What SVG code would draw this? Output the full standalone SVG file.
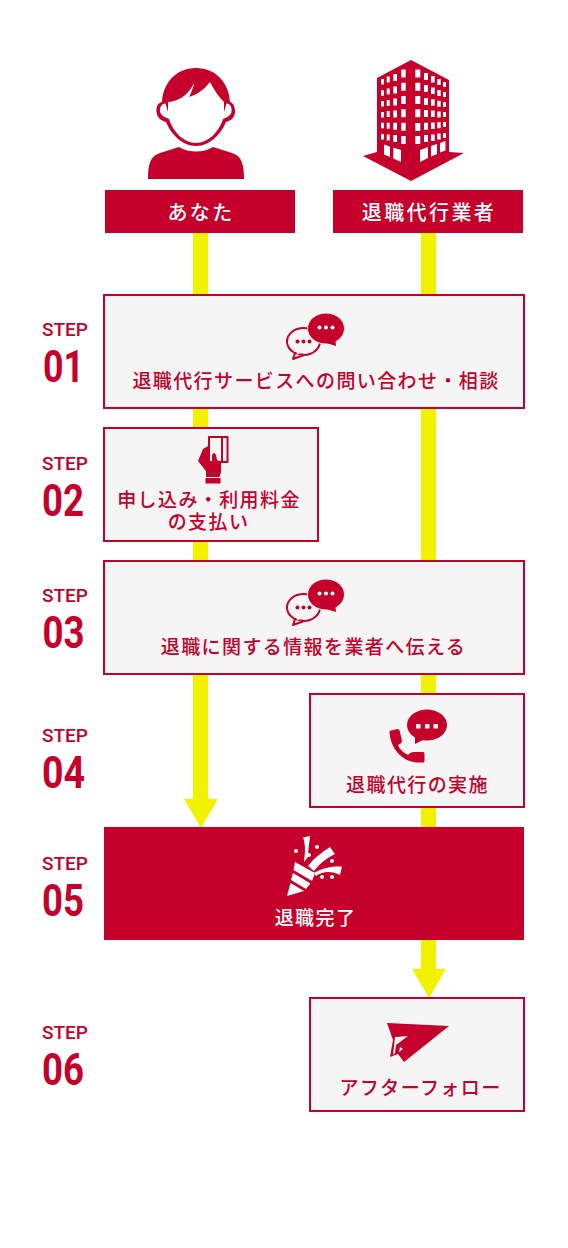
<svg xmlns="http://www.w3.org/2000/svg" xmlns:xlink="http://www.w3.org/1999/xlink" width="568" height="1248" viewBox="0 0 568 1248">
<style>
.r{fill:#c4002b}
.w{fill:#fff}
.box{fill:#f5f5f5;stroke:#c4002b;stroke-width:2}
.y{fill:#f2f200}
.t{font-family:"Noto Sans CJK JP","Noto Sans",sans-serif;font-size:19px;font-weight:500;letter-spacing:1.4px;text-anchor:middle;fill:#c4002b}
.tw{fill:#fff}
.h{font-size:20px;letter-spacing:2.4px}
.s{font-family:Roboto,"Liberation Sans",sans-serif;font-size:18.5px;font-weight:500;fill:#c4002b}
.n{font-family:Roboto,"Liberation Sans",sans-serif;font-size:44px;font-weight:700;fill:#c4002b}
</style>
<defs>
<g id="chat">
<ellipse cx="303.500" cy="341.500" rx="16.500" ry="13.500" fill="none" stroke="#c4002b" stroke-width="2"/>
<path d="M295 353L293 359L304 355Z" fill="#f5f5f5" stroke="#c4002b" stroke-width="2" stroke-linejoin="round"/>
<path d="M296 350L297 354L303 353Z" fill="#f5f5f5"/>
<circle class="r" cx="297.500" cy="341.500" r="2"/><circle class="r" cx="303.500" cy="341.500" r="2"/><circle class="r" cx="309.500" cy="341.500" r="2"/>
<ellipse cx="326" cy="328.500" rx="18.500" ry="15.500" class="r" stroke="#f5f5f5" stroke-width="1"/>
<path class="r" d="M323 342L336 346L335 336Z"/>
<circle class="w" cx="319.500" cy="327.500" r="2"/><circle class="w" cx="326" cy="327.500" r="2"/><circle class="w" cx="332.500" cy="327.500" r="2"/>
</g>
</defs>
<g id="connectors">
<rect class="y" x="193" y="233" width="15" height="61"/>
<rect class="y" x="193" y="409" width="15" height="18"/>
<rect class="y" x="193" y="542" width="15" height="18"/>
<path class="y" d="M193 675H208V799H218L201 828L184 799H193Z"/>
<rect class="y" x="421" y="233" width="15" height="61"/>
<rect class="y" x="421" y="409" width="15" height="151"/>
<rect class="y" x="421" y="675" width="15" height="18"/>
<rect class="y" x="421" y="808" width="15" height="19"/>
<path class="y" d="M421 940H436V969H446L429 998L412 969H421Z"/>
</g>
<g id="you">
<path class="r" d="M196 68C176 68 163 83 162 102C157 103 156 108 156.500 112C157 118 162 121 166 122C171 134 182 146 196 146C210 146 221 134 226 122C230 121 235 118 235 112C235 108 234 103 230 102C229 83 216 68 196 68Z"/>
<path class="w" d="M168 102C178 101 188 96 194 83C193 89 191 93 189 97C196 95 204 90 210 82C214 90 219 97 224 102L224 112L226.500 103.500C231 104 232 108 231.500 112C231 115 228 117 223 119C219 132 208 143 196 143C184 143 173 132 169 119C164 117 161 115 160 112C159.500 108 161 104 165.500 103.500L168 112Z"/>
<path class="r" d="M148 179C148 165 150 156 160 153L179 147C184 150 190 151.500 196 151.500C202 151.500 208 150 213 147L232 153C242 156 244 165 244 179Z"/>
<rect class="r" x="105" y="190" width="190" height="43"/>
<text class="t tw h" x="201" y="220">あなた</text>
</g>
<g id="agent">
<path class="r" d="M411 60L449 80V152L464 153L411 181L363 156L377 152V78Z"/>
<path class="w" d="M381 79h3v5.500h-3zM386.700 76.500h3v6h-3zM393.300 74h3.700v7h-3.700zM401.300 69.500h4.400v8h-4.400zM381 90.300h3v5.500h-3zM386.700 88.500h3v6h-3zM393.300 86.500h3.700v7h-3.700zM401.300 82.700h4.400v8h-4.400zM381 101h3v5.500h-3zM386.700 100h3v6h-3zM393.300 98.500h3.700v7h-3.700zM401.300 96h4.400v8h-4.400zM381 112h3v5.500h-3zM386.700 111h3v6h-3zM393.300 110.500h3.700v7h-3.700zM401.300 109.300h4.400v8h-4.400zM381 122.700h3v5.500h-3zM386.700 122.700h3v6h-3zM393.300 122.700h3.700v7h-3.700zM401.300 122.700h4.400v8h-4.400zM381 134h3v5.500h-3zM386.700 134.500h3v6h-3zM393.300 135h3.700v7h-3.700zM401.300 136h4.400v8h-4.400z"/>
<path class="w" d="M415.300 69.500h5v8h-5zM424 73h4v7h-4zM431 76h3.700v6.500h-3.700zM437.300 79h3.400v6h-3.400zM443 82h3v5h-3zM415.300 82.700h5v8h-5zM424 85h4v7h-4zM431 87.500h3.700v6.500h-3.700zM437.300 90h3.400v6h-3.400zM443 92h3v5h-3zM415.300 96h5v8h-5zM424 98h4v7h-4zM431 99.300h3.700v6.500h-3.700zM437.300 100.800h3.400v6h-3.400zM443 102h3v5h-3zM415.300 109.300h5v8h-5zM424 110h4v7h-4zM431 110.600h3.700v6.500h-3.700zM437.300 111.400h3.400v6h-3.400zM443 112h3v5h-3zM415.300 123h5v8h-5zM424 122.700h4v7h-4zM431 122.500h3.700v6.500h-3.700zM437.300 122.200h3.400v6h-3.400zM443 122h3v5h-3zM415.300 136h5v8h-5zM424 135h4v7h-4zM431 134.400h3.700v6.500h-3.700zM437.300 133.600h3.400v6h-3.400zM443 133h3v5h-3z"/>
<path class="w" d="M384 144.500L390 146.500V157L384 154.500ZM393.300 147.500L401 150V162L393.300 158.500ZM420 150L428 147V158L420 162ZM431 146L437 144V154L431 156.500ZM440 143L445.500 141V150.500L440 152.500Z"/>
<rect class="r" x="333" y="190" width="190" height="43"/>
<text class="t tw h" x="429" y="220">退職代行業者</text>
</g>
<g id="step01">
<text class="s" x="42" y="336" textLength="46" lengthAdjust="spacingAndGlyphs">STEP</text>
<text class="n" x="43" y="382" textLength="41" lengthAdjust="spacingAndGlyphs">01</text>
<rect class="box" x="104" y="295" width="420" height="113"/>
<use href="#chat"/>
<text class="t" x="316" y="388">退職代行サービスへの問い合わせ・相談</text>
</g>
<g id="step02">
<text class="s" x="42" y="470" textLength="46" lengthAdjust="spacingAndGlyphs">STEP</text>
<text class="n" x="42" y="516" textLength="42" lengthAdjust="spacingAndGlyphs">02</text>
<rect class="box" x="104" y="428" width="214" height="113"/>
<path d="M209 437H227.500V462H209ZM222 437V462" fill="none" stroke="#c4002b" stroke-width="2"/>
<path class="r" d="M198 461L203 449L209 445.500V461H212V455Q214 451 216 455L217 460L221 462V472L219.500 477H206V471Z"/>
<rect class="r" x="205.500" y="478" width="15" height="5.500"/>
<text class="t" x="209" y="507">申し込み・利用料金</text>
<text class="t" x="208.500" y="529">の支払い</text>
</g>
<g id="step03">
<text class="s" x="42" y="602" textLength="46" lengthAdjust="spacingAndGlyphs">STEP</text>
<text class="n" x="42.500" y="648" textLength="42" lengthAdjust="spacingAndGlyphs">03</text>
<rect class="box" x="104" y="561" width="420" height="113"/>
<use href="#chat" y="266"/>
<text class="t" x="313.500" y="654">退職に関する情報を業者へ伝える</text>
</g>
<g id="step04">
<text class="s" x="42" y="742" textLength="46" lengthAdjust="spacingAndGlyphs">STEP</text>
<text class="n" x="42" y="788" textLength="43" lengthAdjust="spacingAndGlyphs">04</text>
<rect class="box" x="310" y="694" width="214" height="113"/>
<ellipse class="r" cx="427" cy="725" rx="20" ry="15.500"/>
<path class="r" d="M415 736L415 744L425 739Z"/>
<path fill="#f5f5f5" d="M416 724h4.500v4.500h-4.500zM425 724h4.500v4.500h-4.500zM433.500 724h4.500v4.500h-4.500z"/>
<path class="r" d="M389.500 731L397 729C399 729 399.500 730 400 732L402 741C402 743 400 744 398 745C400 750 404 753 408 755C410 753 411 752 414 752L423 752C424.500 752 424.500 753 424.500 755V761C424.500 762 424 762.500 422 762.500C404 764 390 750 389.500 731Z"/>
<text class="t" x="417.500" y="792">退職代行の実施</text>
</g>
<g id="step05">
<text class="s" x="42" y="870" textLength="46" lengthAdjust="spacingAndGlyphs">STEP</text>
<text class="n" x="42" y="916" textLength="42" lengthAdjust="spacingAndGlyphs">05</text>
<rect class="r" x="104" y="827" width="420" height="113"/>
<path class="w" d="M295 862L315 873L312 881L293.500 870ZM293 873L310.500 883.500L306 889L291 880ZM290.500 883L304 891L287 896Z"/>
<path class="w" d="M303 837.500L310 836C309 845 308 852 308 857L304 862C305 853 306 846 303 837.500ZM308 866C314 858 322 852 330 847L335 854C327 858 320 863 314 871ZM314 873C323 867 334 866 342 866.500L340 875C332 871 323 871 316 876Z"/>
<circle class="w" cx="296" cy="851" r="2"/><circle class="w" cx="317" cy="847" r="2"/><circle class="w" cx="309" cy="855" r="2"/><circle class="w" cx="332" cy="861" r="2"/><circle class="w" cx="322" cy="877" r="2"/><circle class="w" cx="332" cy="877" r="2"/>
<text class="t tw" x="315.500" y="925">退職完了</text>
</g>
<g id="step06">
<text class="s" x="42" y="1039" textLength="46" lengthAdjust="spacingAndGlyphs">STEP</text>
<text class="n" x="42" y="1085" textLength="42" lengthAdjust="spacingAndGlyphs">06</text>
<rect class="box" x="310" y="998" width="214" height="113"/>
<path class="r" d="M387 1023L449 1026L404 1062L398 1054L390 1057L393 1040Z"/>
<path fill="#f5f5f5" d="M395 1037L408 1036L396 1045L395 1053L393 1055ZM399 1052L403 1049L400 1047Z"/>
<text class="t" x="420.500" y="1095">アフターフォロー</text>
</g>
</svg>
